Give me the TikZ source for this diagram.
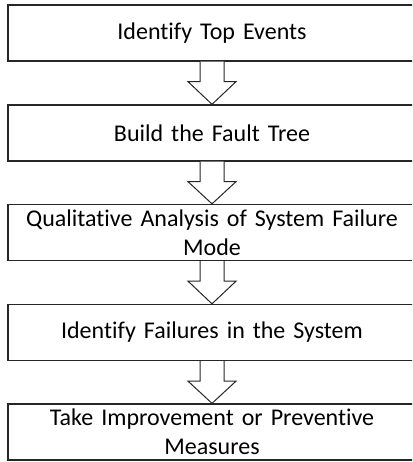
\documentclass[tikz,border=0pt]{standalone}
\usepackage{fontspec}
\setmainfont{Carlito}[RawFeature=-liga]
\begin{document}
\begin{tikzpicture}[x=1pt,y=-1pt,
  stepbox/.style={draw=black!85, line width=1.3pt, fill=white,
    minimum width=408pt, minimum height=56pt, inner sep=0pt,
    align=center, text width=404pt,
    font=\fontsize{24}{29.5}\selectfont},
  flowarrow/.style={draw=black!85, line width=1pt, fill=white, line join=miter}]
\useasboundingbox (0,0) rectangle (412,462);
\clip (0,0) rectangle (412,462);

% process steps
\node[stepbox] (s1) at (212,33)  {Identify Top Events};
\node[stepbox] (s2) at (212,133) {Build the Fault Tree};
\node[stepbox] (s3) at (212,232.5) {Qualitative Analysis of System Failure\\Mode};
\node[stepbox] (s4) at (212,332.5) {Identify Failures in the System};
\node[stepbox] (s5) at (212,432) {Take Improvement or Preventive\\Measures};

% hollow block arrows between consecutive steps
\foreach \a/\b in {s1/s2, s2/s3, s3/s4, s4/s5}{
  \draw[flowarrow] ([xshift=-12pt]\a.south) -- ([xshift=-12pt,yshift=-20pt]\a.south)
    -- ([xshift=-24pt,yshift=-20pt]\a.south) -- (\b.north)
    -- ([xshift=24pt,yshift=-20pt]\a.south) -- ([xshift=12pt,yshift=-20pt]\a.south)
    -- ([xshift=12pt]\a.south);
}
\end{tikzpicture}
\end{document}
